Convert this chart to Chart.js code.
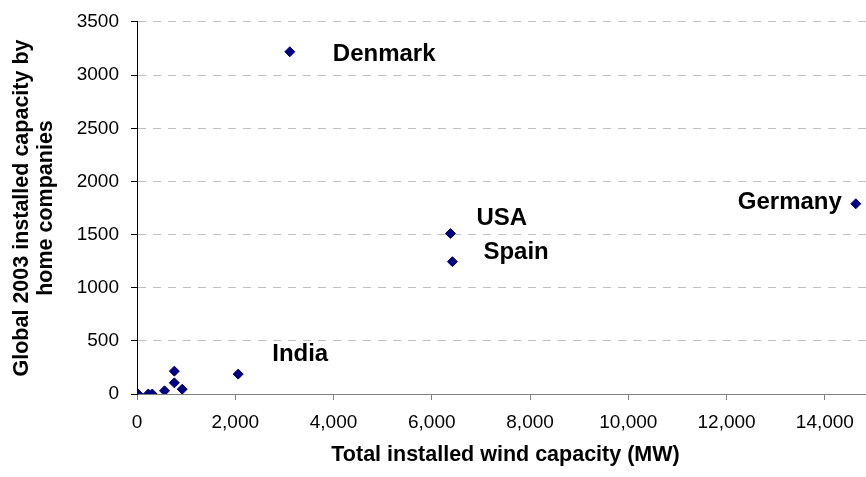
<!DOCTYPE html>
<html>
<head>
<meta charset="utf-8">
<script src="https://cdn.jsdelivr.net/npm/chart.js@4.4.1/dist/chart.umd.min.js"></script>
<style>
  html, body { margin: 0; padding: 0; background: #fff; overflow: hidden; }
  #wrap { width: 900px; height: 477px; }
</style>
</head>
<body>
<div id="wrap"><canvas id="chart" width="900" height="477"></canvas></div>
<script>
// data
var countryNames        = ['Germany', 'USA', 'Spain', 'Denmark', 'India', '', '', '', '', '', '', ''];
var totalCapacityMW     = [14630, 6380, 6420, 3110, 2060, 920, 760, 760, 560, 310, 230, 20];
var homeCompanyCapacity = [1790, 1510, 1245, 3220, 187, 45, 215, 105, 30, 0, 0, 0];
var xTicks = [0, 2000, 4000, 6000, 8000, 10000, 12000, 14000];
var xMax = 15000;
var yTicks = [0, 500, 1000, 1500, 2000, 2500, 3000, 3500];

// where each country name sits next to its marker (px)
var labelPlace = {
  'Germany': { dx: -14, dy: -1,  align: 'right' },
  'USA':     { dx: 26,  dy: -15, align: 'left' },
  'Spain':   { dx: 31,  dy: -9,  align: 'left' },
  'Denmark': { dx: 43,  dy: 3,   align: 'left' },
  'India':   { dx: 34,  dy: -20, align: 'left' }
};

var points = [];
for (var i = 0; i < totalCapacityMW.length; i++) {
  points.push({ x: totalCapacityMW[i], y: homeCompanyCapacity[i] });
}

var countryLabels = {
  id: 'countryLabels',
  afterDatasetsDraw: function(chart) {
    var ctx = chart.ctx;
    var meta = chart.getDatasetMeta(0);
    ctx.save();
    ctx.font = 'bold 24px "Liberation Sans", Arial, sans-serif';
    ctx.fillStyle = '#000';
    ctx.textBaseline = 'middle';
    for (var i = 0; i < countryNames.length; i++) {
      var place = labelPlace[countryNames[i]];
      if (!place) continue;
      var pt = meta.data[i];
      ctx.textAlign = place.align;
      ctx.fillText(countryNames[i], pt.x + place.dx, pt.y + place.dy);
    }
    ctx.restore();
  }
};

Chart.defaults.font.family = '"Liberation Sans", Arial, sans-serif';
Chart.defaults.color = '#000';

var ctx = document.getElementById('chart').getContext('2d');
new Chart(ctx, {
  type: 'scatter',
  data: {
    datasets: [{
      data: points,
      pointStyle: 'rectRot',
      pointRadius: 5,
      pointBorderWidth: 1,
      backgroundColor: '#000080',
      borderColor: '#000080'
    }]
  },
  options: {
    responsive: false,
    animation: false,
    layout: { padding: { left: 0, top: 20, right: 26, bottom: 0 } },
    plugins: { legend: { display: false }, tooltip: { enabled: false } },
    scales: {
      x: {
        type: 'linear',
        min: xTicks[0],
        max: xMax,
        afterFit: function(scale) { scale.height = 83; },
        afterBuildTicks: function(scale) {
          scale.ticks = xTicks.map(function(v) { return { value: v }; });
        },
        ticks: {
          padding: 11,
          font: { size: 19 },
          callback: function(v) { return v.toLocaleString('en-US'); }
        },
        grid: { drawOnChartArea: false, tickLength: 6, tickColor: '#808080' },
        border: { color: '#808080', width: 1 },
        title: {
          display: true,
          text: 'Total installed wind capacity (MW)',
          font: { size: 21.5, weight: 'bold', lineHeight: 1.2 },
          padding: { top: 0, bottom: 9 }
        }
      },
      y: {
        min: yTicks[0],
        max: yTicks[yTicks.length - 1],
        afterFit: function(scale) { scale.width = 137; },
        ticks: {
          stepSize: yTicks[1] - yTicks[0],
          padding: 12,
          font: { size: 19, lineHeight: 1.05 },
          callback: function(v) { return String(v); }
        },
        grid: { color: '#c0c0c0', lineWidth: 1, tickLength: 6, tickColor: '#000' },
        border: { color: '#000', width: 1, dash: [8, 7] },
        title: {
          display: true,
          text: ['Global 2003 installed capacity by', 'home companies'],
          font: { size: 21.5, weight: 'bold', lineHeight: 1.12 },
          padding: { top: 10, bottom: 0 }
        }
      }
    }
  },
  plugins: [countryLabels]
});
</script>
</body>
</html>
